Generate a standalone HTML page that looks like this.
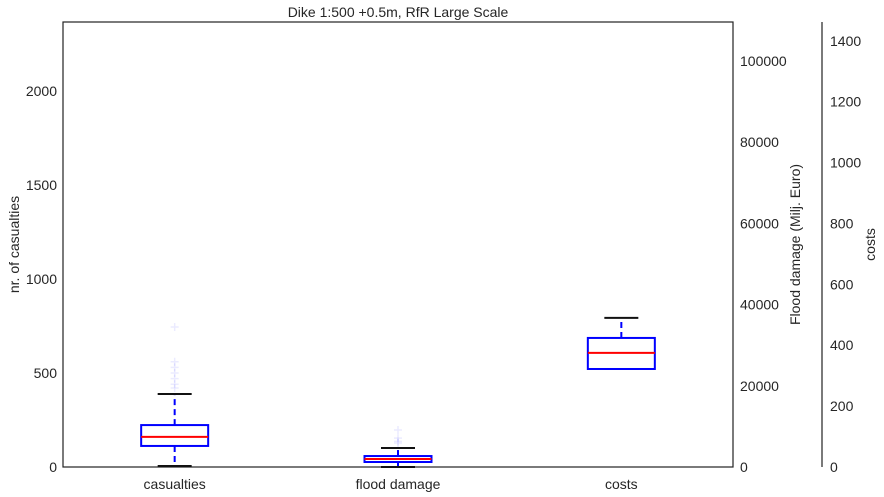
<!DOCTYPE html>
<html><head><meta charset="utf-8"><style>
body{margin:0;background:#fff;}
svg{display:block;font-family:"Liberation Sans",sans-serif;}
</style></head><body>
<svg id="c" width="884" height="497"></svg>
<script>
const categories=["casualties","flood damage","costs"];
const casualtyStats=[5,112,160,223,388];
const casualtyOutliers=[745,560,530,500,470,440,420];
const damageStats=[0,1230,1970,2700,4680];
const damageOutliers=[9100,7100,6300,5900];
const costStats=[322,322,375,424,490];
const costOutliers=[];
const leftTicks=[0,500,1000,1500,2000];
const damageTicks=[0,20000,40000,60000,80000,100000];
const costTicks=[0,200,400,600,800,1000,1200,1400];

const L=63,R=733,T=22,B=467;
const yCas=v=>B-v*(B-T)/2367;
const yDam=v=>B-v*(B-T)/109600;
const yCost=v=>B-v*(B-T)/1462;
const xCat=i=>L+(R-L)*(i+0.5)/3;
const NS="http://www.w3.org/2000/svg";
const svg=document.getElementById('c');
function mk(tag,attrs,parent){const e=document.createElementNS(NS,tag);for(const k in attrs)e.setAttribute(k,attrs[k]);(parent||svg).appendChild(e);return e;}
function txt(s,attrs){const e=mk('text',Object.assign({fill:'#262626','font-size':14},attrs));e.textContent=s;return e;}

const t=txt("Dike 1:500 +0.5m, RfR Large Scale",{x:(L+R)/2,y:17,'text-anchor':'middle'});



const frame=mk('rect',{x:L,y:T,width:R-L,height:B-T,fill:'none',stroke:'#222','stroke-width':1.2});



leftTicks.forEach(v=>{const e=txt(String(v),{x:57,y:yCas(v)+5,'text-anchor':'end'});

});
damageTicks.forEach(v=>{const e=txt(String(v),{x:740,y:yDam(v)+5});

});
const sp=mk('line',{x1:822,x2:822,y1:T,y2:B,stroke:'#222','stroke-width':1.2});


costTicks.forEach(v=>{const e=txt(String(v),{x:830,y:yCost(v)+5});

});

let yl=txt("nr. of casualties",{transform:'translate(19,'+((T+B)/2)+') rotate(-90)','text-anchor':'middle'});


yl=txt("Flood damage (Milj. Euro)",{transform:'translate(800,'+((T+B)/2)+') rotate(-90)','text-anchor':'middle'});


yl=txt("costs",{transform:'translate(875,'+((T+B)/2)+') rotate(-90)','text-anchor':'middle'});



categories.forEach((c,i)=>{const e=txt(c,{x:xCat(i),y:489,'text-anchor':'middle'});

});

function box(i,s,outs,y,name){
  const g=mk('g',{});
  
  
  const cx=xCat(i),hw=33.5,cw=17;
  mk('line',{x1:cx,x2:cx,y1:y(s[3]),y2:y(s[4]),stroke:'#00f','stroke-width':2,'stroke-dasharray':'6,4'},g);
  mk('line',{x1:cx,x2:cx,y1:y(s[1]),y2:y(s[0]),stroke:'#00f','stroke-width':2,'stroke-dasharray':'6,4'},g);
  mk('line',{x1:cx-cw,x2:cx+cw,y1:y(s[4]),y2:y(s[4]),stroke:'#111','stroke-width':2},g);
  mk('line',{x1:cx-cw,x2:cx+cw,y1:y(s[0]),y2:y(s[0]),stroke:'#111','stroke-width':2},g);
  mk('rect',{x:cx-hw,y:y(s[3]),width:2*hw,height:Math.max(0,y(s[1])-y(s[3])),fill:'none',stroke:'#00f','stroke-width':2},g);
  mk('line',{x1:cx-hw,x2:cx+hw,y1:y(s[2]),y2:y(s[2]),stroke:'#f00','stroke-width':2},g);
  outs.forEach(v=>{const yy=y(v);
    mk('path',{d:`M${cx-4},${yy}H${cx+4}M${cx},${yy-4}V${yy+4}`,stroke:'#00f','stroke-width':1.5,'stroke-opacity':0.08},g);});
}
box(0,casualtyStats,casualtyOutliers,yCas,'casualties');
box(1,damageStats,damageOutliers,yDam,'flood-damage');
box(2,costStats,costOutliers,yCost,'costs');
</script>
</body></html>
